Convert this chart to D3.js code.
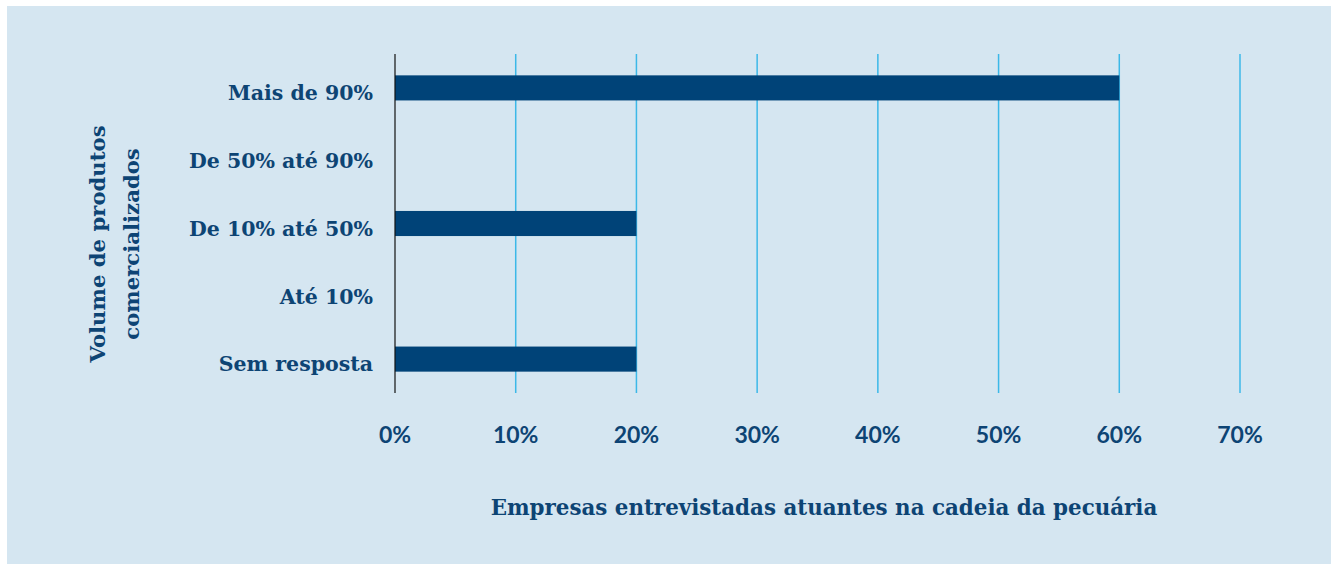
<!DOCTYPE html>
<html lang="pt">
<head>
<meta charset="UTF-8">
<title>Volume de produtos comercializados</title>
<script src="https://d3js.org/d3.v7.min.js"></script>
<style>
  body { margin: 0; background: #fff; }
</style>
</head>
<body>
<script>
// dados
var categories = ["Mais de 90%", "De 50% até 90%", "De 10% até 50%", "Até 10%", "Sem resposta"];
var values = [60, 0, 20, 0, 20];
var ticks = [0, 10, 20, 30, 40, 50, 60, 70];
var xTitle = "Empresas entrevistadas atuantes na cadeia da pecuária";
var yTitle = ["Volume de produtos", "comercializados"];

var W = 1338, H = 564;
var navy = "#004378", textColor = "#0d4474", grid = "#3cb8e8";
var serif = "'DejaVu Serif', 'Liberation Serif', serif";

var svg = d3.select("body").append("svg")
    .attr("width", W)
    .attr("height", H);

svg.append("rect")
    .attr("x", 7).attr("y", 6)
    .attr("width", 1324).attr("height", 558)
    .attr("fill", "#d5e6f1");

var x = d3.scaleLinear().domain([0, 70]).range([395, 1240]);
var y = d3.scaleBand().domain(categories).range([54, 393]).paddingInner(0.63).paddingOuter(0.315);

// linhas de grade
svg.selectAll(".grid")
    .data(ticks.slice(1))
    .enter()
    .append("line")
    .attr("x1", function(d){ return x(d); })
    .attr("x2", function(d){ return x(d); })
    .attr("y1", 54).attr("y2", 393)
    .attr("stroke", grid)
    .attr("stroke-width", 1.5);

// barras
svg.selectAll(".bar")
    .data(values)
    .enter()
    .append("rect")
    .attr("x", x(0))
    .attr("y", function(d, i){ return y(categories[i]); })
    .attr("width", function(d){ return x(d) - x(0); })
    .attr("height", y.bandwidth())
    .attr("fill", navy);

// eixo zero
svg.append("line")
    .attr("x1", x(0)).attr("x2", x(0))
    .attr("y1", 54).attr("y2", 393)
    .attr("stroke", "#111")
    .attr("stroke-width", 1.2);

// rótulos das categorias
svg.selectAll(".cat")
    .data(categories)
    .enter()
    .append("text")
    .attr("x", 373)
    .attr("y", function(d){ return y(d) + y.bandwidth() / 2; })
    .attr("dy", "0.6em")
    .attr("text-anchor", "end")
    .attr("fill", textColor)
    .style("font-family", serif)
    .style("font-weight", "bold")
    .style("font-size", "20.5px")
    .text(function(d){ return d; });

// rótulos do eixo x
svg.selectAll(".tick")
    .data(ticks)
    .enter()
    .append("text")
    .attr("x", function(d){ return x(d); })
    .attr("y", 443)
    .attr("text-anchor", "middle")
    .attr("fill", textColor)
    .style("font-family", "Lato, sans-serif")
    .style("font-weight", "bold")
    .style("font-size", "23px")
    .text(function(d){ return d + "%"; });

// título do eixo x
svg.append("text")
    .attr("x", 824)
    .attr("y", 515)
    .attr("text-anchor", "middle")
    .attr("fill", textColor)
    .style("font-family", serif)
    .style("font-weight", "bold")
    .style("font-size", "21.4px")
    .text(xTitle);

// título do eixo y
svg.append("g")
    .attr("transform", "translate(105,244) rotate(-90)")
    .selectAll("text")
    .data(yTitle)
    .enter()
    .append("text")
    .attr("x", 0)
    .attr("y", function(d, i){ return i * 34; })
    .attr("text-anchor", "middle")
    .attr("fill", textColor)
    .style("font-family", serif)
    .style("font-weight", "bold")
    .style("font-size", "21.2px")
    .text(function(d){ return d; });
</script>
</body>
</html>
